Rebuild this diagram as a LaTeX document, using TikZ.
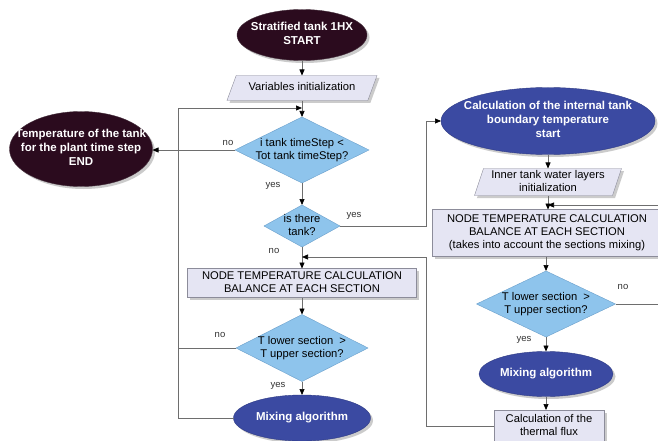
\documentclass[tikz,border=0pt]{standalone}
\usepackage{fontspec}
\setmainfont{Liberation Sans}
\usetikzlibrary{shapes.geometric,arrows.meta,shadows}
\definecolor{termdark}{HTML}{2B0B1E}
\definecolor{procblue}{HTML}{3B4AA2}
\definecolor{procbluedark}{HTML}{2E3A84}
\definecolor{decfill}{HTML}{8EC4EC}
\definecolor{decline}{HTML}{6A9FCB}
\definecolor{lav}{HTML}{E5E5F3}
\definecolor{boxline}{HTML}{8C8C9A}
\definecolor{lineg}{HTML}{6E6E6E}
\newcommand{\myNormFont}{\fontsize{11.2}{13}\selectfont}
\newcommand{\myBoldFont}{\fontsize{11.5}{14}\selectfont\bfseries}
\newcommand{\myLblFont}{\fontsize{9.5}{11}\selectfont}
\newcommand{\ctext}[1]{\smash{\raisebox{-0.25em}{\makebox[0pt]{\begin{tabular}{@{}c@{}}#1\end{tabular}}}}}
\begin{document}
\begin{tikzpicture}[x=1pt,y=-1pt,
  base/.style={inner sep=0pt,outer sep=0pt},
  myshadow/.style={drop shadow={shadow xshift=2.5pt,shadow yshift=-2.5pt,fill=black!45,opacity=0.45}},
  endterm/.style={base,ellipse,fill=termdark,draw=termdark!70!gray,text=white,font=\myBoldFont,myshadow},
  procterm/.style={base,ellipse,fill=procblue,draw=procbluedark,text=white,font=\myBoldFont,myshadow},
  procbox/.style={base,rectangle,fill=lav,draw=boxline,font=\myNormFont,myshadow},
  iobox/.style={base,inner sep=0.5pt,trapezium,trapezium left angle=86,trapezium right angle=94,trapezium stretches=true,fill=lav,draw=boxline,font=\myNormFont,myshadow},
  decbox/.style={base,diamond,fill=decfill,draw=decline,font=\myNormFont},
  lbl/.style={font=\myLblFont,text=black!80},
  conn/.style={draw=lineg,line width=0.7pt},
  arr/.style={conn,-{Triangle[length=6pt,width=5pt,color=black]}}
]
\useasboundingbox (0,0) rectangle (658,441);
\fill[white] (0,0) rectangle (658,441);
\clip (0,0) rectangle (658,441);

% left column
\node[endterm, minimum width=130pt, minimum height=51pt] (start) at (302,35) {\ctext{Stratified tank 1HX\\START}};
\node[iobox, minimum width=150pt, minimum height=25pt] (var) at (302,88) {\ctext{Variables initialization}};
\node[decbox, minimum width=134pt, minimum height=66pt] (d1) at (302,150) {\ctext{i tank timeStep <\\Tot tank timeStep?}};
\node[endterm, minimum width=143pt, minimum height=75pt] (endn) at (81,149) {\ctext{Temperature of the tank\\for the plant time step\\END}};
\node[decbox, minimum width=76pt, minimum height=42pt] (d2) at (302,226) {\ctext{is there\\tank?}};
\node[procbox, minimum width=229pt, minimum height=29pt] (nodeL) at (302,283) {\ctext{NODE TEMPERATURE CALCULATION\\BALANCE AT EACH SECTION}};
\node[decbox, minimum width=132pt, minimum height=67pt] (d3) at (302,348) {\ctext{T lower section~~>\\T upper section?}};
\node[procterm, minimum width=137pt, minimum height=46pt] (mixL) at (302,418) {\ctext{Mixing algorithm}};

% right column
\node[procterm, minimum width=214pt, minimum height=67pt] (calc) at (548,121) {\ctext{Calculation of the internal tank\\boundary temperature\\start}};
\node[iobox, minimum width=147pt, minimum height=27pt] (inner) at (548,182) {\ctext{Inner tank water layers\\initialization}};
\node[procbox, minimum width=230pt, minimum height=47pt] (nodeR) at (547,233) {\ctext{NODE TEMPERATURE CALCULATION\\BALANCE AT EACH SECTION\\(takes into account the sections mixing)}};
\node[decbox, minimum width=139pt, minimum height=66pt] (d4) at (546,304) {\ctext{T lower section~~>\\T upper section?}};
\node[procterm, minimum width=134pt, minimum height=45pt] (mixR) at (546,374) {\ctext{Mixing algorithm}};
\node[procbox, minimum width=110pt, minimum height=32pt] (flux) at (549,426) {\ctext{Calculation of the\\thermal flux}};

% helper coordinates
\coordinate (j1) at (302,108);
\coordinate (lc) at (178,108);
\coordinate (ry) at (426,121);
\coordinate (fy) at (426,257);
\coordinate (j2) at (302,257);
\coordinate (rtop) at (668,205);
\coordinate (j3) at (548,205);

% connectors left
\draw[arr] (start.south) -- (var.north);
\draw[arr] (var.south) -- (d1.north);
\draw[arr] (mixL.west) -| (lc) -- (j1);
\draw[arr] (d1.west) -- (d1.west -| endn.east);
\draw[arr] (d1.south) -- (d2.north);
\draw[arr] (d2.east) -| (ry) -- (calc.west);
\draw[arr] (d2.south) -- (nodeL.north);
\draw[arr] (flux.west) -| (fy) -- (j2);
\draw[arr] (nodeL.south) -- (d3.north);
\draw[conn] (d3.west) -- (d3.west -| lc);
\draw[arr] (d3.south) -- (mixL.north);

% connectors right
\draw[arr] (calc.south) -- (inner.north);
\draw[arr] (inner.south) -- (inner.south |- nodeR.north);
\draw[arr] (d4.east) -| (rtop) -- (j3);
\draw[arr] (d4.north |- nodeR.south) -- (d4.north);
\draw[arr] (d4.south) -- (mixR.north);
\draw[arr] (mixR.south) -- (mixR.south |- flux.north);

% labels
\node[lbl] (no1) at (228,143) {no};
\node[lbl] (yes1) at (273,186) {yes};
\node[lbl] (yes2) at (354,216) {yes};
\node[lbl] (no2) at (274,251) {no};
\node[lbl] (no3) at (220,335) {no};
\node[lbl] (yes3) at (278,386) {yes};
\node[lbl] (no4) at (623,287) {no};
\node[lbl] (yes4) at (524,340) {yes};
\end{tikzpicture}
\end{document}
